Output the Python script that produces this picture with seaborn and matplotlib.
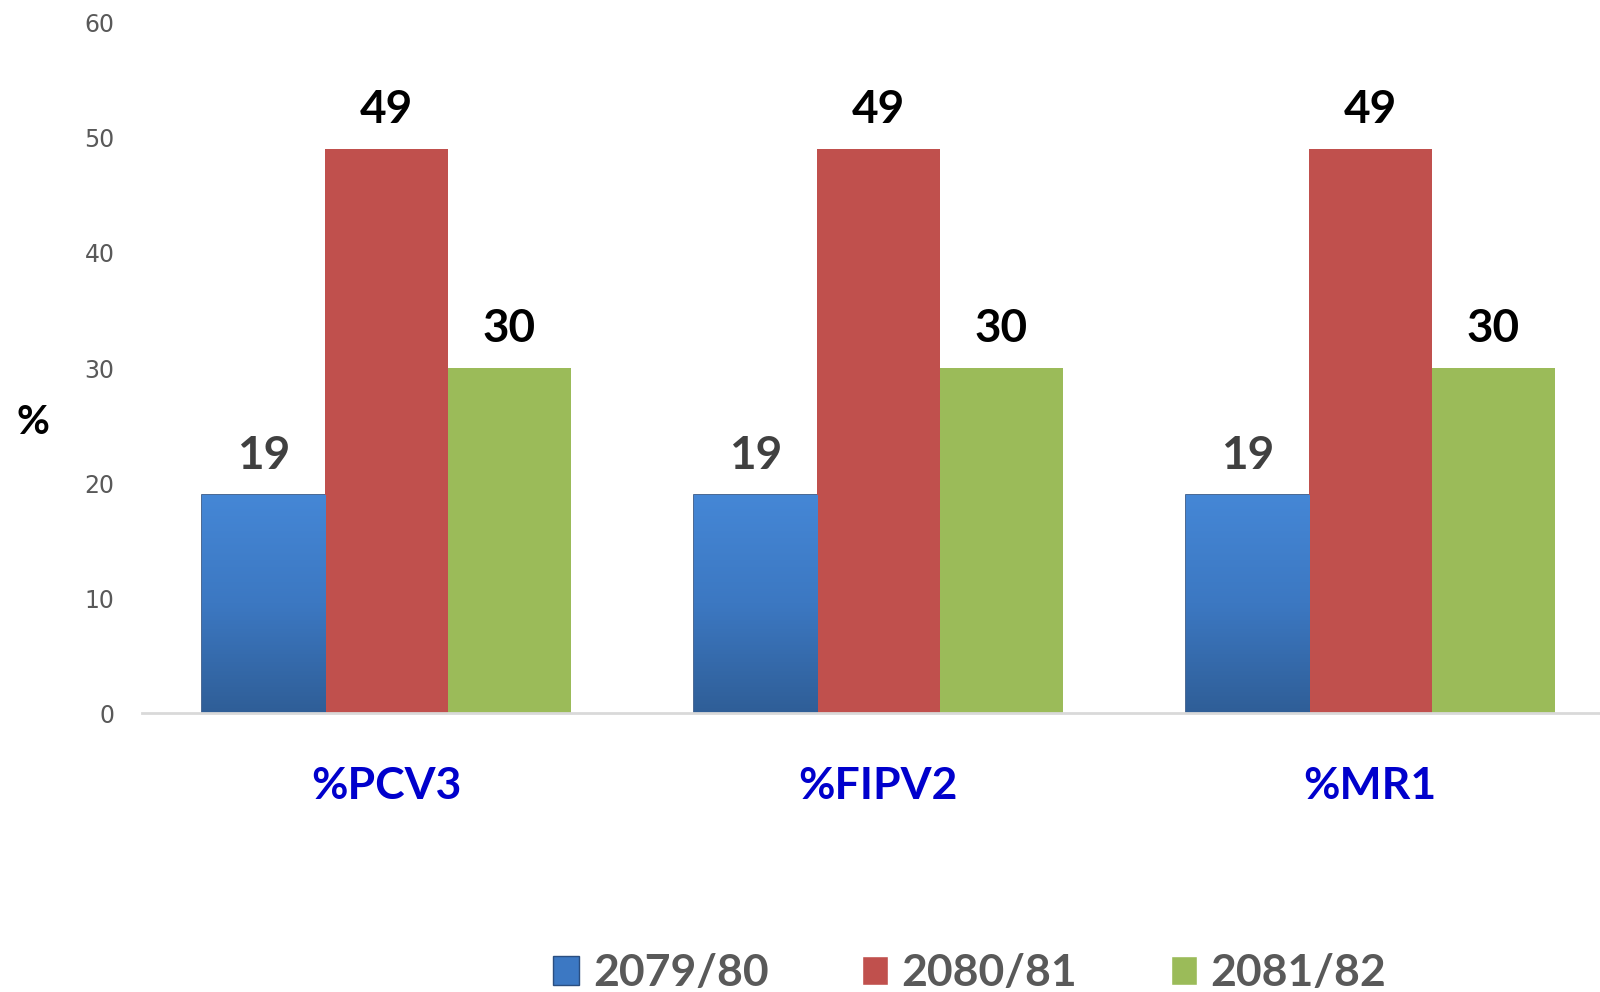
import matplotlib
matplotlib.use('Agg')
import matplotlib.pyplot as plt
import numpy as np
import pandas as pd
import seaborn as sns
from matplotlib.colors import LinearSegmentedColormap
from matplotlib.patches import Patch

categories = ['%PCV3', '%FIPV2', '%MR1']
years = ['2079/80', '2080/81', '2081/82']
values_2079 = [19, 19, 19]
values_2080 = [49, 49, 49]
values_2081 = [30, 30, 30]
y_ticks = [0, 10, 20, 30, 40, 50, 60]

colors = ['#3C78C3', '#C0504D', '#9BBB59']
label_colors = ['#404040', '#000000', '#000000']

df = pd.DataFrame({
    'category': categories * 3,
    'year': [years[0]] * 3 + [years[1]] * 3 + [years[2]] * 3,
    'value': values_2079 + values_2080 + values_2081,
})

sns.set_theme(style='white')
plt.rcParams['font.family'] = ['Lato', 'DejaVu Sans']

fig = plt.figure(figsize=(16, 9.92), dpi=100)
ax = fig.add_axes([0.089, 0.281, 0.911, 0.696])

sns.barplot(data=df, x='category', y='value', hue='year', order=categories,
            hue_order=years, palette=colors, width=0.75, saturation=1,
            errorbar=None, ax=ax, legend=False, linewidth=0)

# gradient + bevel look on the first series
grad = LinearSegmentedColormap.from_list('blue_grad', ['#2F5E97', '#3C78C2', '#4587D6'])
for bar in ax.containers[0]:
    x0, y0 = bar.get_x(), bar.get_y()
    w, h = bar.get_width(), bar.get_height()
    img = ax.imshow(np.linspace(0, 1, 256).reshape(-1, 1), cmap=grad, origin='lower',
                    extent=[x0, x0 + w, y0, y0 + h], aspect='auto', zorder=bar.get_zorder() + 0.1)
    img.set_clip_path(bar)
    bar.set_edgecolor('#2A4E80')
    bar.set_linewidth(1.2)
ax.set_xlim(-0.4955, 2.467)
ax.set_ylim(0, 60)

for cont, col in zip(ax.containers, label_colors):
    ax.bar_label(cont, padding=13, fontsize=33, fontweight='bold', color=col, zorder=5)

ax.set_yticks(y_ticks)
ax.set_yticklabels([str(t) for t in y_ticks], family='DejaVu Sans', fontsize=17, color='#595959')
ax.tick_params(axis='y', length=0, pad=20)
ax.tick_params(axis='x', length=0, pad=38)
for lab in ax.get_xticklabels():
    lab.set_fontsize(32)
    lab.set_fontweight('bold')
    lab.set_color('#0000CC')

ax.set_xlabel('')
ax.set_ylabel('%', rotation=0, fontsize=29, fontweight='bold', color='black')
ax.yaxis.set_label_coords(-0.075, 0.395)

for side in ['top', 'right', 'left']:
    ax.spines[side].set_visible(False)
ax.spines['bottom'].set_color('#D9D9D9')
ax.spines['bottom'].set_linewidth(2)
ax.grid(False)

handles = [Patch(facecolor=colors[0], edgecolor='#2A4E80'),
           Patch(facecolor=colors[1]), Patch(facecolor=colors[2])]
leg = fig.legend(handles, years, loc='center', bbox_to_anchor=(0.606, 0.019), ncol=3,
                 frameon=False, fontsize=32, handlelength=0.6, handleheight=0.6,
                 handletextpad=0.3, columnspacing=2.1)
for t in leg.get_texts():
    t.set_fontweight('bold')
    t.set_color('#595959')

fig.savefig('out.png', dpi=100)
